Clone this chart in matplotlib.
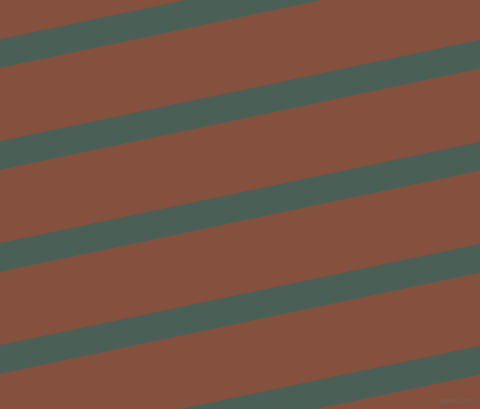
import numpy as np
import matplotlib
matplotlib.use('Agg')
import matplotlib.pyplot as plt

# stripe top edges where they meet x=0 (pixels from top)
stripe_starts = [-63, 39, 141, 243, 345, 447]
stripe_height = 28.7
rise = 101.5      # how far a stripe climbs across the full width
width, height = 481, 409

bg_color = '#85513f'
stripe_color = '#4a6056'

fig = plt.figure(figsize=(width / 100, height / 100), dpi=100)
ax = fig.add_axes([0, 0, 1, 1])
ax.set_facecolor(bg_color)
ax.set_xlim(0, width)
ax.set_ylim(height, 0)
ax.axis('off')
fig.patch.set_facecolor(bg_color)

x = np.array([0, width])
for s in stripe_starts:
    top = s - rise * x / width
    ax.fill_between(x, top, top + stripe_height, color=stripe_color, lw=0)

ax.text(476, 401, 'pixlis.com', fontsize=5.2, color='#7b5f55',
        ha='right', va='center')

fig.savefig('out.png', dpi=100, facecolor=bg_color)
